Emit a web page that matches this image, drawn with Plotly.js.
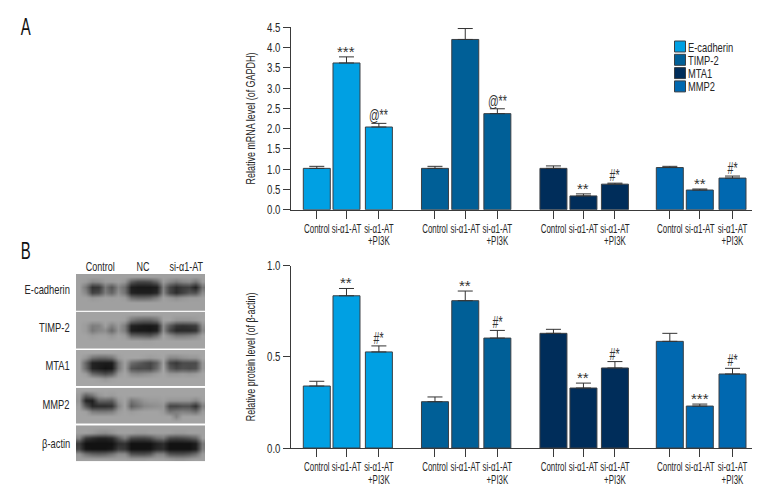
<!DOCTYPE html>
<html><head><meta charset="utf-8">
<script src="https://cdn.plot.ly/plotly-3.0.1.min.js"></script>
<style>html,body{margin:0;padding:0;background:#fff}</style></head>
<body><div id="chart" style="width:780px;height:504px"></div>
<script>
var FONT = '"Liberation Sans",Arial,sans-serif';
var seriesNames = ['E-cadherin','TIMP-2','MTA1','MMP2'];
var seriesColors = ['#00a0e3','#005f97','#002d5a','#0068b0'];
var barLabels = ['Control','si-α1-AT','si-α1-AT<br>+PI3K'];
var groupPositions = [[0.86,1.85,2.93],[4.8,5.81,6.88],[8.75,9.75,10.8],[12.63,13.63,14.72]];

var mrnaValues = [[1.02,3.62,2.04],[1.02,4.2,2.37],[1.02,0.34,0.63],[1.04,0.485,0.78]];
var mrnaErrors = [[0.05,0.15,0.09],[0.05,0.27,0.12],[0.06,0.05,0.025],[0.03,0.025,0.05]];
var mrnaMarks = [['','***','@**'],['','','@**'],['','**','#*'],['','**','#*']];

var proteinValues = [[0.34,0.835,0.527],[0.254,0.808,0.603],[0.629,0.329,0.439],[0.585,0.23,0.406]];
var proteinErrors = [[0.026,0.04,0.033],[0.026,0.053,0.042],[0.022,0.027,0.035],[0.044,0.011,0.031]];
var proteinMarks = [['','**','#*'],['','**','#*'],['','**','#*'],['','***','#*']];

var blotLanes = ['Control','NC','si-α1-AT'];
var blotProteins = ['E-cadherin','TIMP-2','MTA1','MMP2','β-actin'];
// Grey levels of the blot, hand-read on a coarse grid per panel (row 0 = top of panel)
var blotECad = [
 [160,160,160,160,160,160,160,160,160,160,160,160,160,160,160,160,160,160,160,160],
 [160,155,135,140,155,155,160,150, 90, 70, 70, 75,100,155,135,120,135,140,115,155],
 [160,120, 50, 55,120, 85,135,110, 30, 25, 25, 25, 30,130, 70, 45, 60, 65, 35,115],
 [160,135, 65, 75,125,100,145,115, 35, 30, 30, 30, 40,135, 70, 45, 65, 85, 80,140],
 [160,160,150,155,160,158,160,155,110,100,100,105,125,160,150,140,150,155,155,160],
 [160,160,160,160,160,160,160,160,160,160,160,160,160,160,160,160,160,160,160,160],
 [160,160,160,160,160,160,160,160,160,160,160,160,160,160,160,160,160,160,160,160]];
var blotTimp = [
 [163,163,163,163,163,163,163,163,163,163,163,163,163,163,163,163,163,163,163,163],
 [163,163,163,163,163,163,163,160,120,105,100,100,115,163,163,150,150,150,155,163],
 [163,155,125,130,160,130,155,125, 35, 30, 25, 25, 30,140, 90, 55, 50, 55, 60,145],
 [163,155,120,135,140,105,150,125, 30, 25, 25, 22, 30,140, 70, 40, 42, 42, 50,135],
 [163,163,155,160,160,150,163,155,100, 95, 90, 85,110,163,140,120,120,125,135,163],
 [163,163,163,163,163,163,163,163,163,163,160,160,163,163,163,163,163,163,163,163],
 [163,163,163,163,163,163,163,163,163,163,163,163,163,163,163,163,163,163,163,163]];
var blotMta = [
 [165,165,165,165,165,165,165,165,165,165,165,165,165,165,165,165,165,165,165,165],
 [165,150,115,105,105,115,155,165,165,165,160,155,160,165,135,135,145,150,150,165],
 [165,100, 35, 30, 28, 28,115,160,110, 95, 80, 70, 95,160, 70, 55, 75, 75, 75,150],
 [165,105, 35, 28, 20, 25,115,160, 85, 75, 75, 70,105,165, 90, 70, 80, 75, 80,150],
 [165,155,105, 90, 75, 90,150,165,140,135,140,145,155,165,150,150,155,150,155,165],
 [165,165,165,160,150,160,165,165,165,165,165,165,165,165,165,165,165,165,165,165],
 [165,165,165,165,165,165,165,165,165,165,165,165,165,165,165,165,165,165,165,165]];
var blotMmp = [
 [163,163,163,163,163,163,163,163,163,163,163,163,163,163,163,163,163,163,163,163],
 [155, 95,115,150,160,155,163,163,163,163,163,163,163,163,163,163,163,163,163,163],
 [150, 35, 30,100,100, 95,150,163,120,135,150,155,155,160,150,150,150,150,135,160],
 [160, 85, 40, 45, 45, 50,130,163, 95,115,135,140,145,150, 70, 70, 80, 80, 50,130],
 [163,160,125,120,120,125,155,163,155,160,163,163,163,155,115,125,130,125,110,155],
 [163,163,163,163,163,163,163,163,163,163,163,163,163,163,163,130,163,163,163,163],
 [163,163,163,163,163,163,163,163,163,163,163,163,163,163,163,163,163,163,163,163]];
var blotActin = [
 [160,160,160,160,160,160,160,160,160,160,160,160,160,160,160,160,160,160,160,160],
 [160,160,155,145,140,150,160,160,160,155,155,160,160,160,160,155,155,160,160,160],
 [130, 60, 45, 35, 35, 45, 90,125, 75, 70, 70, 80,110,120, 75, 70, 75, 85,100,160],
 [ 60, 18, 18, 18, 18, 18, 45, 50, 18, 18, 18, 18, 35, 45, 18, 18, 18, 18, 30,120],
 [ 70, 22, 18, 18, 18, 25, 60, 55, 18, 18, 18, 20, 40, 45, 18, 18, 18, 18, 30,125],
 [150,115,100, 95,100,115,140,140, 85, 80, 80, 90,130,130, 85, 80, 80, 90,110,155],
 [160,160,160,160,160,160,160,160,155,155,155,160,160,160,155,150,150,155,160,160]];
var blotPanels = [blotECad,blotTimp,blotMta,blotMmp,blotActin];
var mrnaTicks = [0,0.5,1,1.5,2,2.5,3,3.5,4,4.5];
var proteinTicks = [0,0.5,1];

var W=780,H=504;
function dx(a,b){return [a/W,b/W];}
function dy(top,bot){return [1-bot/H,1-top/H];}
var allPos = [].concat.apply([],groupPositions);
var allLabels = groupPositions.map(function(){return barLabels;}).reduce(function(a,b){return a.concat(b);},[]);

var AXC='#3a3a3a', TXT='#262626';
function xAxis(anchor){return {domain:dx(291,752),range:[0,15.37],anchor:anchor,tickmode:'array',tickvals:allPos,ticktext:allLabels,
  ticks:'outside',ticklen:8,tickwidth:1,tickcolor:AXC,showline:true,linecolor:AXC,linewidth:1,showgrid:false,zeroline:false,
  tickfont:{family:FONT,size:12,color:TXT},tickangle:0,automargin:false};}
function yAxis(anchor,dom,max,ticks,title){return {domain:dom,range:[0,max],anchor:anchor,tickmode:'array',tickvals:ticks,
  ticktext:ticks.map(function(t){return t.toFixed(1);}),ticks:'outside',ticklen:7,tickwidth:1,tickcolor:AXC,showline:true,linecolor:AXC,linewidth:1,
  showgrid:false,zeroline:false,tickfont:{family:FONT,size:13,color:TXT},title:{text:title,font:{family:FONT,size:13,color:TXT},standoff:8},automargin:false};}

var traces=[],annos=[];
function addBars(vals,errs,marks,xa,ya,legend){
  vals.forEach(function(v,i){
    traces.push({type:'bar',x:groupPositions[i],y:v,width:0.9,name:seriesNames[i],showlegend:legend,xaxis:xa,yaxis:ya,
      marker:{color:seriesColors[i],line:{color:'#3a3f44',width:1}},
      error_y:{type:'data',symmetric:false,array:errs[i],arrayminus:v.map(function(){return 0;}),color:'#333',thickness:1,width:7.5},hoverinfo:'skip'});
    marks[i].forEach(function(m,j){ if(!m) return;
      var star=m.charAt(0)==='*';
      annos.push({xref:xa,yref:ya,x:groupPositions[i][j],y:v[j]+errs[i][j],text:m,showarrow:false,xanchor:'center',yanchor:'bottom',yshift:star?-5:-3,
        font:{family:FONT,size:star?15:16,color:'#333'}});
    });
  });
}
addBars(mrnaValues,mrnaErrors,mrnaMarks,'x','y',true);
addBars(proteinValues,proteinErrors,proteinMarks,'x2','y2',false);

// Blot panels: each is a smooth heatmap on its own axes
var blotTops=[[274,310.7],[311.7,348.7],[350,386],[387.7,423.7],[425.3,461.3]];
var blotLabelY=[289,327,365,404,443];
var layoutExtra={};
blotPanels.forEach(function(z,i){
  var n=i+3;
  traces.push({type:'heatmap',z:z,xaxis:'x'+n,yaxis:'y'+n,zmin:0,zmax:255,zsmooth:'best',showscale:false,hoverinfo:'skip',
    colorscale:[[0,'#000'],[1,'#fff']]});
  layoutExtra['xaxis'+n]={domain:dx(76,205),anchor:'y'+n,visible:false,range:[-0.5,19.5]};
  layoutExtra['yaxis'+n]={domain:dy(blotTops[i][0],blotTops[i][1]),anchor:'x'+n,visible:false,range:[6.5,-0.5]};
  annos.push({xref:'paper',yref:'paper',x:72/W,xanchor:'right',y:1-blotLabelY[i]/H,yanchor:'middle',text:blotProteins[i],showarrow:false,
    font:{family:FONT,size:13,color:TXT}});
});
var laneX=[99.5,143,186.7];
blotLanes.forEach(function(t,i){annos.push({xref:'paper',yref:'paper',x:laneX[i]/W,xanchor:'center',y:1-267/H,yanchor:'middle',text:t,showarrow:false,font:{family:FONT,size:12.5,color:TXT}});});
[['A',25.5,27],['B',25.5,251]].forEach(function(p){annos.push({xref:'paper',yref:'paper',x:p[1]/W,xanchor:'center',y:1-p[2]/H,yanchor:'middle',text:p[0],showarrow:false,font:{family:FONT,size:23,color:'#111'}});});

var layout=Object.assign({width:W,height:H,margin:{l:0,r:0,t:0,b:0},paper_bgcolor:'#fff',plot_bgcolor:'rgba(0,0,0,0)',barmode:'overlay',
  font:{family:FONT},
  xaxis:xAxis('y'),yaxis:yAxis('x',dy(27.3,209.7),4.5,mrnaTicks,'Relative mRNA level (of GAPDH)'),
  xaxis2:xAxis('y2'),yaxis2:yAxis('x2',dy(265.7,448),1,proteinTicks,'Relative protein level (of β-actin)'),
  legend:{x:660/W,y:1-39/H,xanchor:'left',yanchor:'top',font:{family:FONT,size:13,color:TXT},bgcolor:'rgba(0,0,0,0)',tracegroupgap:0,itemclick:false,itemdoubleclick:false,traceorder:'normal'},
  annotations:annos,showlegend:true},layoutExtra);

// The reference uses a condensed face; narrow the real text about its own anchor.
function squeeze(el,s,pivot){
  var x=(pivot!==undefined)?pivot:parseFloat(el.getAttribute('x')||0);
  var y=parseFloat(el.getAttribute('y')||0);
  var t=el.getAttribute('transform')||'';
  el.setAttribute('transform',t+' translate('+x+','+y+') scale('+s+',1) translate('+(-x)+','+(-y)+')');
}
function each(root,sel,fn){Array.prototype.forEach.call(root.querySelectorAll(sel),fn);}
Plotly.newPlot('chart',traces,layout,{displayModeBar:false,staticPlot:true}).then(function(gd){
  each(gd,'.xtick text, .x2tick text',function(el){
    each(el,'tspan.line',function(t){ if(parseFloat(t.getAttribute('dy'))>0) t.setAttribute('dy','1.03em'); });
    squeeze(el,0.66);
  });
  each(gd,'.ytick text, .y2tick text',function(el){squeeze(el,0.74);});
  each(gd,'.ytitle, .y2title',function(el){
    squeeze(el,0.69);
    el.setAttribute('transform','translate(4.5,0) '+el.getAttribute('transform'));
  });
  each(gd,'.annotation-text',function(el){
    var s=el.textContent;
    if(blotProteins.indexOf(s)>=0){var b=el.getBBox();squeeze(el,0.72,b.x+b.width);}
    else if(s==='A'||s==='B'){squeeze(el,0.65);}
    else if(s.charAt(0)==='#'||s.charAt(0)==='@'){squeeze(el,0.66);}
    else if(s.charAt(0)!=='*'){squeeze(el,0.72);}
  });
  each(gd,'.legend .traces',function(el,i){
    el.setAttribute('transform','translate(0,'+(7.5+i*13.3)+')');
    var tx=el.querySelector('.legendtext');
    tx.setAttribute('x','28');
    squeeze(tx,0.72);
    each(el,'.legendpoints path',function(p){p.setAttribute('d','M5.5,5.5H-5.5V-5.5H5.5Z');});
  });
});
</script></body></html>
